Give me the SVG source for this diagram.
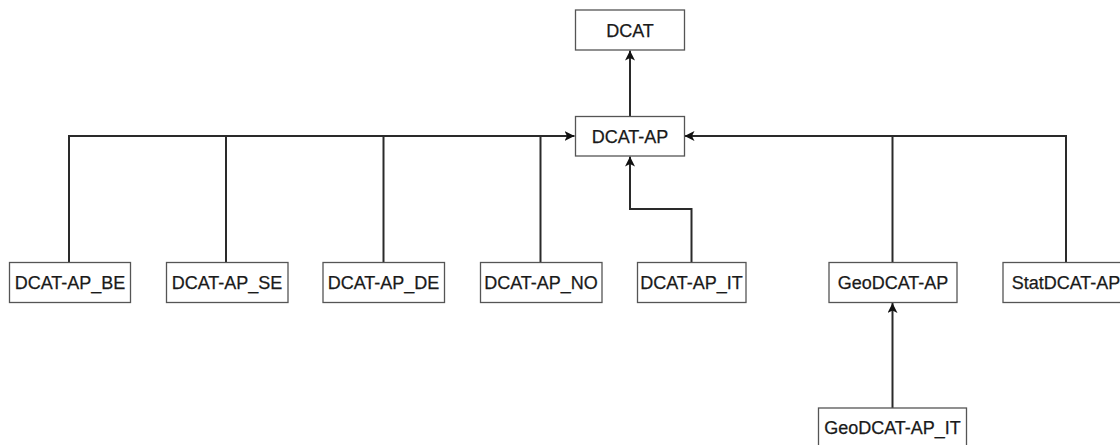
<svg xmlns="http://www.w3.org/2000/svg" width="1120" height="445" viewBox="0 0 1120 445">
<style>
.box{fill:#fff;stroke:#555;stroke-width:1.3}
.lbl{font-family:"Liberation Sans",Arial,sans-serif;font-size:18px;fill:#1a1a1a;stroke:#1a1a1a;stroke-width:0.25;text-anchor:middle;dominant-baseline:central}
.c{fill:none;stroke:#2a2a2a;stroke-width:2}
</style>
<defs>
<marker id="ah" viewBox="0 0 10 10" refX="10" refY="5" markerWidth="10" markerHeight="10" markerUnits="userSpaceOnUse" orient="auto">
<path d="M0,0 L10,5 L0,10 L2.5,5 Z" fill="#111"/>
</marker>
</defs>
<rect width="1120" height="445" fill="#fff"/>
<g id="connectors">
<path class="c" d="M630,116 V50.5" marker-end="url(#ah)"/>
<path class="c" d="M69,262.5 V136 H574.5" marker-end="url(#ah)"/>
<path class="c" d="M226,262.5 V136"/>
<path class="c" d="M383.5,262.5 V136"/>
<path class="c" d="M540.5,262.5 V136"/>
<path class="c" d="M691.5,262.5 V209 H630 V156.5" marker-end="url(#ah)"/>
<path class="c" d="M1066,262.5 V136 H684.5" marker-end="url(#ah)"/>
<path class="c" d="M892.5,262.5 V136"/>
<path class="c" d="M892.5,408 V303" marker-end="url(#ah)"/>
</g>
<g id="DCAT"><rect class="box" x="575.5" y="10" width="109" height="40"/><text class="lbl" x="630" y="30.5">DCAT</text></g>
<g id="DCAT-AP"><rect class="box" x="575.5" y="116.5" width="109" height="39.5"/><text class="lbl" x="630" y="136.5">DCAT-AP</text></g>
<g id="DCAT-AP_BE"><rect class="box" x="9.5" y="262.5" width="121" height="40"/><text class="lbl" x="70" y="282.5">DCAT-AP_BE</text></g>
<g id="DCAT-AP_SE"><rect class="box" x="166.5" y="262.5" width="121.5" height="40"/><text class="lbl" x="227" y="282.5">DCAT-AP_SE</text></g>
<g id="DCAT-AP_DE"><rect class="box" x="323" y="262.5" width="121.5" height="40"/><text class="lbl" x="383.5" y="282.5">DCAT-AP_DE</text></g>
<g id="DCAT-AP_NO"><rect class="box" x="480.5" y="262.5" width="121.5" height="40"/><text class="lbl" x="541" y="282.5">DCAT-AP_NO</text></g>
<g id="DCAT-AP_IT"><rect class="box" x="637.5" y="262.5" width="108.5" height="40"/><text class="lbl" x="691.5" y="282.5">DCAT-AP_IT</text></g>
<g id="GeoDCAT-AP"><rect class="box" x="829" y="262.5" width="128" height="40"/><text class="lbl" x="893" y="282.5">GeoDCAT-AP</text></g>
<g id="StatDCAT-AP"><rect class="box" x="1003" y="262.5" width="130" height="40"/><text class="lbl" x="1066" y="282.5">StatDCAT-AP</text></g>
<g id="GeoDCAT-AP_IT"><rect class="box" x="818.5" y="408" width="148" height="40"/><text class="lbl" x="892.5" y="428">GeoDCAT-AP_IT</text></g>
</svg>
